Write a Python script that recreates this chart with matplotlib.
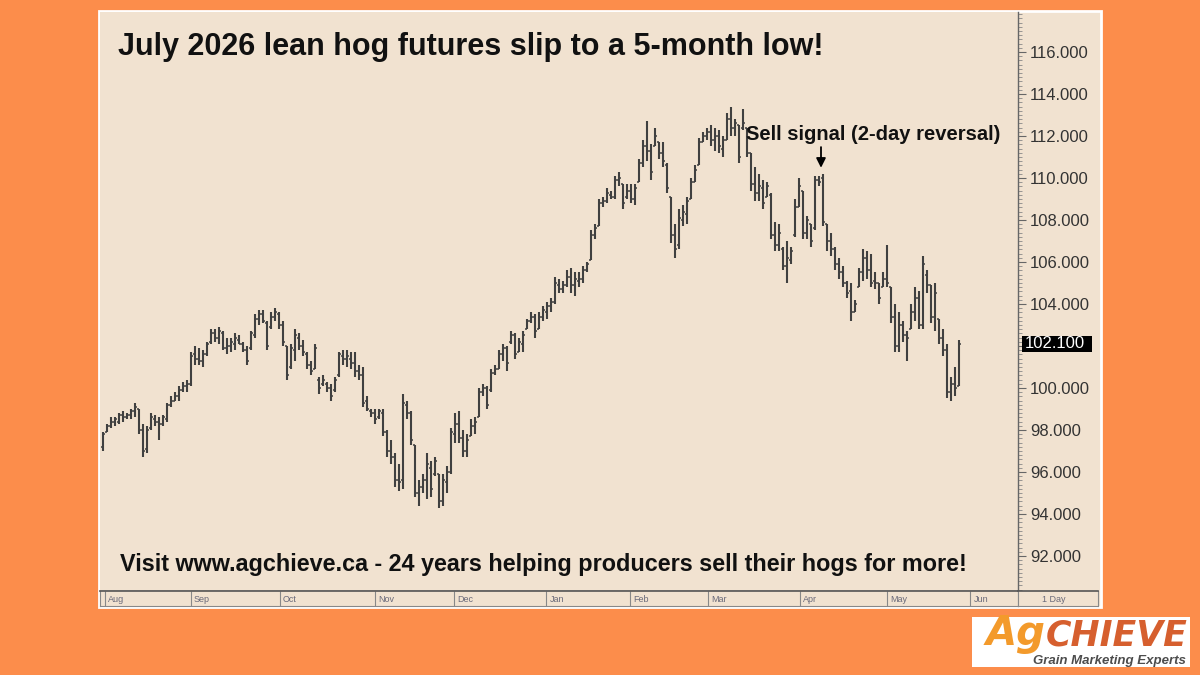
import matplotlib.pyplot as plt
import numpy as np
from matplotlib.patches import Rectangle
from matplotlib.ticker import MultipleLocator, FuncFormatter
from matplotlib.transforms import blended_transform_factory

plt.rcParams["font.family"] = ["Liberation Sans", "DejaVu Sans"]

# daily bars, July 2026 lean hogs
highs = [
    97.9, 98.3, 98.6, 98.6, 98.8, 98.9, 98.8, 99.0, 99.3, 99.0,
    98.3, 98.2, 98.8, 98.7, 98.6, 98.7, 99.3, 99.6, 99.8, 100.1,
    100.3, 100.4, 101.7, 102.0, 101.9, 101.8, 102.2, 102.8, 102.8, 102.9,
    102.7, 102.4, 102.4, 102.6, 102.5, 102.2, 102.0, 102.7, 103.5, 103.7,
    103.7, 103.2, 103.6, 103.8, 103.6, 103.2, 102.0, 102.1, 102.8, 102.6,
    102.3, 101.7, 101.3, 102.1, 100.5, 100.6, 100.3, 100.2, 100.5, 101.7,
    101.8, 101.8, 101.7, 101.7, 101.1, 101.0, 99.6, 99.0, 99.0, 99.0,
    99.0, 98.0, 97.5, 96.9, 96.4, 99.7, 99.4, 98.9, 97.3, 95.6,
    95.9, 96.9, 96.5, 96.7, 95.9, 95.9, 96.3, 98.1, 98.8, 98.9,
    98.0, 97.8, 98.5, 98.6, 100.0, 100.2, 100.1, 100.9, 101.1, 101.8,
    102.1, 102.0, 102.7, 102.6, 102.4, 102.7, 103.3, 103.6, 103.5, 103.6,
    103.9, 104.1, 104.3, 105.3, 105.2, 105.1, 105.6, 105.7, 105.5, 105.5,
    105.8, 106.0, 107.5, 107.8, 109.0, 109.1, 109.5, 109.4, 110.1, 110.3,
    109.7, 109.7, 109.7, 109.7, 110.9, 111.8, 112.7, 111.6, 112.4, 111.7,
    111.7, 110.7, 109.1, 107.8, 108.5, 108.7, 109.1, 110.0, 110.6, 111.9,
    112.2, 112.4, 112.5, 112.4, 112.3, 112.0, 113.1, 113.4, 112.8, 112.5,
    113.3, 112.4, 111.2, 110.5, 110.2, 109.9, 109.8, 109.3, 107.9, 107.8,
    106.7, 107.0, 106.7, 109.0, 110.0, 109.4, 108.2, 107.8, 110.1, 110.1,
    110.2, 107.8, 107.4, 106.7, 106.2, 105.8, 105.1, 105.0, 104.2, 105.7,
    106.6, 106.5, 106.4, 105.5, 105.0, 105.5, 106.8, 104.8, 104.0, 103.6,
    103.2, 102.7, 104.0, 104.8, 104.6, 106.3, 105.6, 104.9, 105.0, 103.3,
    102.8, 102.1, 100.5, 101.0, 102.3,
]
lows = [
    97.0, 97.9, 98.1, 98.2, 98.3, 98.4, 98.5, 98.5, 98.6, 97.8,
    96.7, 96.9, 98.0, 98.2, 97.5, 98.2, 98.4, 99.1, 99.4, 99.4,
    99.8, 99.8, 100.1, 101.1, 101.1, 101.0, 101.5, 102.1, 102.2, 102.1,
    101.8, 101.6, 101.7, 101.8, 102.1, 101.7, 101.1, 101.8, 102.4, 103.0,
    103.1, 101.8, 102.8, 103.2, 102.8, 102.0, 100.4, 100.9, 101.3, 101.8,
    101.5, 100.9, 100.6, 100.9, 99.7, 100.1, 99.8, 99.4, 99.8, 100.5,
    101.1, 101.0, 100.9, 100.5, 100.4, 99.1, 98.9, 98.6, 98.3, 98.5,
    97.7, 96.7, 96.4, 95.3, 95.1, 95.2, 98.5, 97.3, 94.8, 94.4,
    95.0, 94.7, 94.8, 95.8, 94.3, 94.4, 95.0, 95.9, 97.4, 97.4,
    96.7, 96.7, 97.7, 97.8, 98.6, 99.6, 99.0, 99.8, 100.6, 100.9,
    101.3, 100.8, 102.1, 101.4, 101.7, 101.7, 102.8, 103.1, 102.4, 102.8,
    103.2, 103.3, 103.6, 104.0, 104.5, 104.5, 104.8, 104.5, 104.4, 104.8,
    105.0, 105.5, 106.1, 107.1, 107.7, 108.6, 108.8, 109.0, 109.0, 109.6,
    108.5, 109.0, 108.8, 108.7, 109.8, 110.5, 110.8, 109.9, 111.5, 110.9,
    110.5, 109.3, 106.9, 106.2, 106.6, 107.7, 107.8, 109.0, 109.8, 110.6,
    111.7, 111.8, 111.5, 111.3, 111.2, 111.0, 111.8, 112.0, 112.0, 110.7,
    112.3, 111.0, 109.4, 108.9, 108.9, 108.5, 109.1, 107.1, 106.5, 106.5,
    105.6, 105.0, 105.9, 107.2, 108.6, 107.1, 107.1, 106.7, 107.5, 109.6,
    107.7, 106.5, 106.3, 105.6, 105.2, 104.8, 104.3, 103.2, 103.6, 104.8,
    105.1, 105.2, 104.8, 104.7, 104.0, 104.8, 104.8, 103.1, 101.7, 101.7,
    102.2, 101.3, 102.8, 103.2, 102.8, 102.8, 104.5, 103.1, 102.7, 102.1,
    101.5, 99.5, 99.4, 99.6, 100.1,
]
opens = [
    97.2, 97.9, 98.2, 98.4, 98.4, 98.7, 98.6, 98.7, 98.9, 99.0,
    98.0, 97.1, 98.1, 98.5, 98.4, 98.3, 98.5, 99.2, 99.4, 99.6,
    99.9, 100.1, 100.2, 101.6, 101.4, 101.3, 101.6, 102.2, 102.6, 102.4,
    102.6, 101.9, 102.0, 102.1, 102.3, 102.1, 101.8, 101.9, 102.5, 103.3,
    103.5, 103.1, 102.9, 103.4, 103.5, 103.0, 102.0, 101.0, 101.8, 102.4,
    102.0, 101.6, 101.1, 100.9, 100.4, 100.2, 100.2, 100.0, 99.9, 100.6,
    101.5, 101.4, 101.4, 101.2, 100.8, 100.6, 99.4, 98.9, 98.8, 98.6,
    98.8, 97.9, 97.0, 96.7, 95.6, 95.6, 99.2, 98.8, 97.3, 95.0,
    95.3, 95.6, 96.2, 95.9, 95.9, 94.6, 95.5, 96.0, 97.8, 98.3,
    97.6, 97.0, 97.7, 98.2, 98.6, 99.8, 100.0, 99.9, 100.7, 100.9,
    101.6, 101.9, 102.2, 102.5, 101.7, 102.1, 102.8, 103.2, 103.4, 102.8,
    103.4, 103.6, 103.9, 104.1, 104.9, 104.7, 104.9, 105.3, 104.9, 105.1,
    105.2, 105.6, 106.1, 107.3, 107.7, 108.8, 108.9, 109.2, 109.1, 109.9,
    109.7, 109.1, 109.4, 109.0, 109.8, 110.7, 111.5, 111.3, 111.5, 111.7,
    111.2, 110.6, 109.1, 107.3, 106.8, 108.0, 108.3, 109.0, 109.8, 110.6,
    111.7, 112.0, 112.2, 111.8, 112.0, 111.4, 111.8, 112.8, 112.4, 112.5,
    112.4, 112.4, 111.2, 109.7, 109.3, 109.5, 109.1, 109.2, 107.3, 106.8,
    106.6, 105.8, 106.1, 107.3, 108.6, 109.4, 107.4, 107.8, 107.6, 109.9,
    110.0, 107.8, 107.0, 106.6, 105.9, 105.5, 105.0, 104.6, 103.6, 104.8,
    105.5, 106.2, 105.6, 105.1, 105.0, 104.8, 105.2, 104.8, 103.4, 102.0,
    103.0, 102.5, 102.8, 103.6, 104.3, 103.0, 105.4, 104.9, 103.4, 103.3,
    102.4, 101.8, 99.8, 100.2, 100.1,
]
closes = [
    97.8, 98.2, 98.4, 98.5, 98.7, 98.6, 98.7, 98.9, 99.1, 98.0,
    97.0, 98.0, 98.6, 98.4, 98.3, 98.6, 99.2, 99.4, 99.6, 99.9,
    100.1, 100.2, 101.5, 101.4, 101.3, 101.6, 102.1, 102.6, 102.4, 102.7,
    101.9, 102.0, 102.2, 102.4, 102.1, 101.8, 101.3, 102.6, 103.3, 103.5,
    103.2, 102.0, 103.4, 103.6, 103.0, 102.2, 100.6, 101.9, 102.5, 102.0,
    101.7, 101.1, 100.8, 101.9, 100.0, 100.4, 100.0, 99.6, 100.4, 101.6,
    101.4, 101.5, 101.2, 100.8, 100.6, 99.3, 99.0, 98.8, 98.5, 98.9,
    97.9, 97.0, 96.7, 95.6, 95.5, 99.3, 98.8, 97.5, 95.0, 95.3,
    95.6, 96.4, 95.2, 96.5, 94.6, 95.6, 96.0, 97.9, 98.3, 97.6,
    97.0, 97.5, 98.2, 98.4, 99.8, 100.0, 99.2, 100.7, 100.9, 101.6,
    101.9, 101.2, 102.5, 101.6, 102.2, 102.5, 103.2, 103.4, 102.7, 103.4,
    103.7, 103.9, 104.1, 105.0, 104.7, 104.9, 105.3, 104.9, 105.2, 105.2,
    105.6, 105.9, 107.3, 107.6, 108.8, 108.9, 109.3, 109.1, 109.9, 110.0,
    108.8, 109.4, 109.0, 109.5, 110.7, 111.5, 111.3, 110.3, 112.0, 111.2,
    110.8, 109.5, 107.3, 106.6, 108.1, 108.4, 108.9, 109.8, 110.4, 111.7,
    112.0, 112.2, 111.8, 112.0, 111.5, 111.8, 112.8, 112.4, 112.6, 111.0,
    112.6, 111.2, 109.7, 109.3, 109.6, 108.8, 109.6, 107.3, 106.8, 107.4,
    105.8, 106.2, 106.5, 108.6, 109.6, 107.4, 108.0, 107.0, 109.9, 109.8,
    107.9, 107.0, 106.6, 105.9, 105.5, 105.0, 104.5, 103.6, 104.0, 105.5,
    106.2, 105.6, 105.0, 105.0, 104.3, 105.2, 105.0, 103.4, 102.0, 103.0,
    102.5, 102.4, 103.6, 104.3, 103.0, 105.9, 104.9, 103.4, 104.5, 102.4,
    101.8, 99.8, 100.2, 100.0, 102.1,
]

month_labels = ["Aug", "Sep", "Oct", "Nov", "Dec", "Jan", "Feb", "Mar", "Apr", "May", "Jun"]
month_starts = [0.5, 21.9, 44.2, 68.0, 87.8, 110.8, 131.8, 151.2, 174.2, 196.0, 216.8]
price_ticks = list(range(92, 117, 2))
last_price = 102.1
signal_bar = 180

ORANGE = "#fc8d4b"
BEIGE = "#f1e2d0"
BAR = "#404040"
W, H = 1200, 675


def box(x0, y0, x1, y1):
    # pixel box (top-left origin) -> figure fraction rect
    return [x0 / W, 1 - y1 / H, (x1 - x0) / W, (y1 - y0) / H]


def price_label(v, pos):
    # the last-price box sits on top of this level in the original
    if abs(v - last_price) < 0.5:
        return ""
    return f"{v:.3f}"


fig = plt.figure(figsize=(12, 6.75), dpi=100, facecolor=ORANGE)

# chart panel with white border (behind the axes)
fig.patches.append(Rectangle((99 / W, 1 - 607 / H), 1002 / W, 596 / H,
                             transform=fig.transFigure, facecolor=BEIGE,
                             edgecolor="white", lw=2, zorder=-5))

ax = fig.add_axes(box(100, 12, 1018, 591))
ax.set_facecolor(BEIGE)
x = np.arange(len(highs))
ax.vlines(x, lows, highs, color=BAR, lw=1.5)
ax.hlines(opens, x - 0.6, x, color=BAR, lw=1.1)
ax.hlines(closes, x, x + 0.6, color=BAR, lw=1.1)

ax.set_xlim(-0.75, 228.75)
ax.set_ylim(90.33, 117.9)
ax.set_xticks([])
ax.yaxis.tick_right()
ax.set_yticks(price_ticks)
ax.yaxis.set_major_formatter(FuncFormatter(price_label))
ax.yaxis.set_minor_locator(MultipleLocator(0.2))
ax.tick_params(axis="y", which="major", length=6, width=0.8, color="#666666",
               labelsize=12, labelcolor="#333333", pad=2.5)
ax.tick_params(axis="y", which="minor", length=3, width=0.6, color="#888888")
for s in ["left", "top"]:
    ax.spines[s].set_visible(False)
for s in ["right", "bottom"]:
    ax.spines[s].set_color("#666666")
    ax.spines[s].set_linewidth(1.0)

# last price marker on the price scale
trans = blended_transform_factory(ax.transAxes, ax.transData)
ax.add_patch(Rectangle((1.0 + 4 / 918, last_price - 0.38), 70 / 918, 0.76, transform=trans,
                       facecolor="black", edgecolor="none", clip_on=False, zorder=5))
ax.text(1.0 + 7 / 918, last_price, f"{last_price:.3f}", transform=trans, color="white",
        fontsize=12, ha="left", va="center", zorder=6, clip_on=False)

ax.text(0.0196, 0.94, "July 2026 lean hog futures slip to a 5-month low!",
        transform=ax.transAxes, fontsize=22, fontweight="bold", color="#111111",
        ha="left", va="center")
ax.text(0.0218, 0.045, "Visit www.agchieve.ca - 24 years helping producers sell their hogs for more!",
        transform=ax.transAxes, fontsize=16.8, fontweight="bold", color="#111111",
        ha="left", va="center")

ax.annotate("", xy=(signal_bar - 0.5, highs[signal_bar] + 0.15),
            xytext=(signal_bar - 0.5, highs[signal_bar] + 1.4),
            arrowprops=dict(arrowstyle="-|>", color="black", lw=1.3, mutation_scale=14))
ax.text(0.7037, 0.789, "Sell signal (2-day reversal)", transform=ax.transAxes,
        fontsize=14.5, fontweight="bold", color="#111111", ha="left", va="center")

# date strip
dax = fig.add_axes(box(100, 591, 1018, 606))
dax.set_facecolor(BEIGE)
dax.set_xlim(ax.get_xlim())
dax.set_ylim(0, 1)
dax.vlines(month_starts, 0, 1, color="#888888", lw=0.8)
for pos, lab in zip(month_starts, month_labels):
    dax.text(pos + 0.8, 0.4, lab, fontsize=6.5, color="#6a6a7a", ha="left", va="center")
dax.set_xticks([])
dax.set_yticks([])
for s in dax.spines.values():
    s.set_color("#888888")
    s.set_linewidth(0.8)
dax.spines["top"].set_color("#555555")
dax.spines["top"].set_linewidth(1.2)

iax = fig.add_axes(box(1018, 591, 1098, 606))
iax.set_facecolor(BEIGE)
iax.set_xticks([])
iax.set_yticks([])
iax.text(0.45, 0.45, "1 Day", fontsize=6.5, color="#6a6a7a", ha="center", va="center",
         transform=iax.transAxes)
for s in iax.spines.values():
    s.set_color("#888888")
    s.set_linewidth(0.8)
iax.spines["top"].set_color("#555555")
iax.spines["top"].set_linewidth(1.2)

# logo
fig.patches.append(Rectangle((972 / W, 1 - 667 / H), 218 / W, 50 / H, transform=fig.transFigure,
                             facecolor="white", edgecolor="none", zorder=-4))
fig.text(1046 / W, 1 - 645 / H, "Ag", fontsize=29, fontweight="bold", fontstyle="italic",
         family="DejaVu Sans", color="#f39a2b", ha="right", va="baseline")
fig.text(1188 / W, 1 - 645 / H, "CHIEVE", fontsize=25, fontweight="bold", fontstyle="italic",
         family="DejaVu Sans", color="#d65f2e", ha="right", va="baseline")
fig.text(1186 / W, 1 - 664 / H, "Grain Marketing Experts", fontsize=9.5, fontweight="bold",
         fontstyle="italic", color="#4d4d4d", ha="right", va="baseline")

fig.savefig("out.png", dpi=100, facecolor=ORANGE)
